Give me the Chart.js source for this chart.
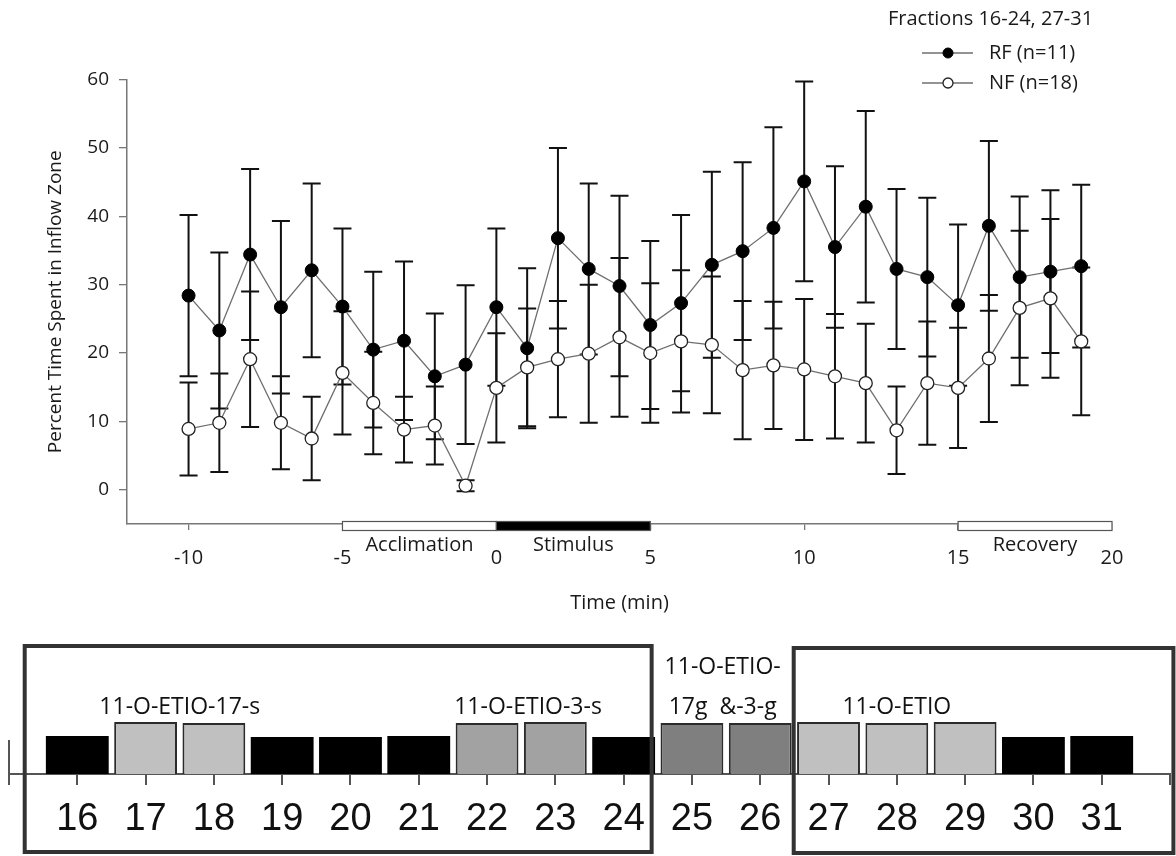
<!DOCTYPE html>
<html>
<head>
<meta charset="utf-8">
<title>Percent Time Spent in Inflow Zone</title>
<script src="https://cdn.jsdelivr.net/npm/chart.js@4.4.1/dist/chart.umd.min.js"></script>
<style>
  html, body { margin: 0; padding: 0; background: #fff; }
  #wrap { position: relative; width: 1176px; height: 856px; }
  #timeChart { position: absolute; left: 0; top: 0; }
  #fracChart { position: absolute; left: 0; top: 620px; }
</style>
</head>
<body>
<div id="wrap">
  <canvas id="timeChart" width="1176" height="620"></canvas>
  <canvas id="fracChart" width="1176" height="236"></canvas>
</div>
<script>
// --- top panel: time course ---
const minutes = [-10, -9, -8, -7, -6, -5, -4, -3, -2, -1, 0, 1, 2, 3, 4, 5, 6, 7, 8, 9, 10, 11, 12, 13, 14, 15, 16, 17, 18, 19];
const rfMean = [28.4, 23.3, 34.4, 26.7, 32.1, 26.8, 20.5, 21.8, 16.6, 18.3, 26.7, 20.7, 36.8, 32.3, 29.8, 24.1, 27.3, 32.9, 34.9, 38.3, 45.1, 35.5, 41.4, 32.3, 31.1, 27.0, 38.6, 31.1, 31.9, 32.7];
const rfSE   = [11.8, 11.4, 12.5, 12.6, 12.7, 11.4, 11.4, 11.6, 9.2, 11.6, 11.5, 11.7, 13.2, 12.5, 13.2, 12.3, 12.9, 13.6, 13.0, 14.7, 14.6, 11.8, 14.0, 11.7, 11.6, 11.8, 12.4, 11.8, 11.9, 11.9];
const nfMean = [8.9, 9.8, 19.1, 9.8, 7.5, 17.1, 12.7, 8.8, 9.4, 0.6, 14.9, 17.9, 19.1, 19.9, 22.3, 20.0, 21.7, 21.2, 17.5, 18.2, 17.6, 16.6, 15.6, 8.7, 15.6, 14.9, 19.2, 26.6, 28.0, 21.7];
const nfSE   = [6.8, 7.2, 9.9, 6.8, 6.1, 9.0, 7.5, 4.8, 5.7, 0.8, 8.0, 8.6, 8.5, 10.1, 11.6, 10.2, 10.4, 10.0, 10.1, 9.3, 10.3, 9.1, 8.7, 6.4, 9.0, 8.8, 9.3, 11.3, 11.6, 10.8];
const timeTicks = [-10, -5, 0, 5, 10, 15, 20];
const percentTicks = [0, 10, 20, 30, 40, 50, 60];

const phaseNames = ['Acclimation', 'Stimulus', 'Recovery'];
const phaseStart = [-5, 0, 15];
const phaseEnd = [0, 5, 20];
const phaseDark = [false, true, false];

const keyTitle = 'Fractions 16-24, 27-31';

// --- bottom panel: fractions ---
const fractions = [16, 17, 18, 19, 20, 21, 22, 23, 24, 25, 26, 27, 28, 29, 30, 31];
const fractionLevel = [38, 52, 51, 37, 37, 38, 51, 52, 37, 51, 51, 52, 51, 52, 37, 38];
const fractionGroup = ['none', '17-s', '17-s', 'none', 'none', 'none', '3-s', '3-s', 'none', 'g', 'g', 'free', 'free', 'free', 'none', 'none'];
const fractionStops = [15, 16, 17, 18, 19, 20, 21, 22, 23, 24, 25, 26, 27, 28, 29, 30, 31, 32];
const groupNotes = ['11-O-ETIO-17-s', '11-O-ETIO-3-s', '11-O-ETIO-', '17g  &-3-g', '11-O-ETIO'];

const groupFill = { 'none': '#000000', '17-s': '#c0c0c0', '3-s': '#a2a2a2', 'g': '#7f7f7f', 'free': '#c0c0c0' };
const notePos = [
  { at: 17.5, y: 87 }, { at: 22.6, y: 87 }, { at: 25.45, y: 47 }, { at: 25.45, y: 87 }, { at: 28.0, y: 87 }
];
const boxes = [
  { from: 15.23, to: 24.41, top: 26, bottom: 232 },
  { from: 26.49, to: 32.05, top: 28, bottom: 233 }
];

Chart.defaults.font.family = '"Open Sans", sans-serif';
Chart.defaults.color = '#1a1a1a';

const errorBars = {
  id: 'errorBars',
  beforeDatasetsDraw(chart) {
    const { ctx, scales: { x, y } } = chart;
    const sets = [[rfMean, rfSE], [nfMean, nfSE]];
    ctx.save();
    ctx.strokeStyle = '#111';
    ctx.lineWidth = 2;
    sets.forEach(([mean, se]) => {
      minutes.forEach((m, i) => {
        const px = x.getPixelForValue(m);
        const hi = y.getPixelForValue(mean[i] + se[i]);
        const lo = y.getPixelForValue(mean[i] - se[i]);
        ctx.beginPath();
        ctx.moveTo(px, hi); ctx.lineTo(px, lo);
        ctx.moveTo(px - 9, hi); ctx.lineTo(px + 9, hi);
        ctx.moveTo(px - 9, lo); ctx.lineTo(px + 9, lo);
        ctx.stroke();
      });
    });
    ctx.restore();
  }
};

const phaseBars = {
  id: 'phaseBars',
  afterDraw(chart) {
    const { ctx, scales: { x }, chartArea } = chart;
    const base = chartArea.bottom;
    ctx.save();
    ctx.font = '20px "Open Sans"';
    ctx.textAlign = 'center';
    ctx.textBaseline = 'middle';
    phaseNames.forEach((name, i) => {
      const x0 = x.getPixelForValue(phaseStart[i]);
      const x1 = x.getPixelForValue(phaseEnd[i]);
      ctx.fillStyle = phaseDark[i] ? '#000' : '#fff';
      ctx.fillRect(x0, base - 2.5, x1 - x0, 9);
      ctx.strokeStyle = '#555';
      ctx.lineWidth = 1.2;
      ctx.strokeRect(x0, base - 2.5, x1 - x0, 9);
      ctx.fillStyle = '#1a1a1a';
      ctx.fillText(name, (x0 + x1) / 2, base + 21);
    });
    ctx.restore();
  }
};

const seriesKey = {
  id: 'seriesKey',
  afterDraw(chart) {
    const { ctx } = chart;
    ctx.save();
    ctx.font = '20px "Open Sans"';
    ctx.textBaseline = 'middle';
    ctx.textAlign = 'left';
    ctx.fillStyle = '#1a1a1a';
    ctx.fillText(keyTitle, 888, 19);
    chart.data.datasets.forEach((ds, i) => {
      const yy = 53 + i * 30;
      ctx.strokeStyle = ds.borderColor;
      ctx.lineWidth = ds.borderWidth;
      ctx.beginPath(); ctx.moveTo(922, yy); ctx.lineTo(973, yy); ctx.stroke();
      ctx.beginPath(); ctx.arc(948, yy, 5, 0, Math.PI * 2);
      ctx.fillStyle = ds.pointBackgroundColor; ctx.fill();
      ctx.strokeStyle = ds.pointBorderColor; ctx.lineWidth = ds.pointBorderWidth; ctx.stroke();
      ctx.fillStyle = '#1a1a1a';
      ctx.fillText(ds.label, 989, yy);
    });
    ctx.restore();
  }
};

new Chart(document.getElementById('timeChart'), {
  type: 'line',
  data: {
    datasets: [
      {
        label: 'RF (n=11)',
        data: minutes.map((m, i) => ({ x: m, y: rfMean[i] })),
        borderColor: '#6f6f6f', borderWidth: 1.3,
        pointRadius: 6.5, pointBackgroundColor: '#000', pointBorderColor: '#000', pointBorderWidth: 1,
        tension: 0
      },
      {
        label: 'NF (n=18)',
        data: minutes.map((m, i) => ({ x: m, y: nfMean[i] })),
        borderColor: '#6f6f6f', borderWidth: 1.3,
        pointRadius: 6.5, pointBackgroundColor: '#fff', pointBorderColor: '#222', pointBorderWidth: 1.3,
        tension: 0
      }
    ]
  },
  options: {
    responsive: false,
    animation: false,
    layout: { padding: { top: 79.5, right: 64, bottom: 0, left: 0 } },
    plugins: { legend: { display: false }, tooltip: { enabled: false } },
    scales: {
      x: {
        type: 'linear', min: -12, max: 20,
        afterBuildTicks: s => { s.ticks = timeTicks.map(v => ({ value: v })); },
        afterFit: s => { s.height = 96; },
        grid: { drawOnChartArea: false, tickLength: 6, color: '#777', lineWidth: 1.3 },
        border: { color: '#777', width: 1.5 },
        ticks: { font: { size: 20 }, color: '#1a1a1a', padding: 16, maxRotation: 0, autoSkip: false },
        title: { display: true, text: 'Time (min)', font: { size: 20 }, color: '#1a1a1a', padding: { top: 0, bottom: 5 } }
      },
      y: {
        min: -5, max: 60,
        afterBuildTicks: s => { s.ticks = percentTicks.map(v => ({ value: v })); },
        afterFit: s => { s.width = 127; },
        grid: { drawOnChartArea: false, tickLength: 8, color: '#777', lineWidth: 1.3 },
        border: { color: '#777', width: 1.5 },
        ticks: { font: { size: 19 }, color: '#1a1a1a', padding: 10 },
        title: { display: true, text: 'Percent Time Spent in Inflow Zone', font: { size: 19 }, color: '#1a1a1a', padding: { top: 44, bottom: 0 } }
      }
    }
  },
  plugins: [errorBars, phaseBars, seriesKey]
});

const fractionDecor = {
  id: 'fractionDecor',
  afterDraw(chart) {
    const { ctx, scales: { x, y } } = chart;
    const base = y.getPixelForValue(0);
    ctx.save();
    // short upright stub at the left end of the axis
    ctx.strokeStyle = '#555';
    ctx.lineWidth = 2;
    const sx = x.getPixelForValue(fractionStops[0]);
    ctx.beginPath(); ctx.moveTo(sx, base - 34); ctx.lineTo(sx, base + 11); ctx.stroke();
    // grouping boxes
    ctx.strokeStyle = '#333';
    ctx.lineWidth = 4;
    boxes.forEach(b => {
      const x0 = x.getPixelForValue(b.from);
      const x1 = x.getPixelForValue(b.to);
      ctx.strokeRect(x0, b.top, x1 - x0, b.bottom - b.top);
    });
    // group names
    ctx.font = '23px "Open Sans"';
    ctx.fillStyle = '#111';
    ctx.textAlign = 'center';
    ctx.textBaseline = 'middle';
    groupNotes.forEach((t, i) => {
      ctx.fillText(t, x.getPixelForValue(notePos[i].at), notePos[i].y);
    });
    ctx.restore();
  }
};

new Chart(document.getElementById('fracChart'), {
  type: 'bar',
  data: {
    datasets: [{
      data: fractions.map((f, i) => ({ x: f, y: fractionLevel[i] })),
      backgroundColor: fractionGroup.map(g => groupFill[g]),
      borderColor: '#2b2b2b',
      borderWidth: fractionGroup.map(g => g === 'none' ? 0 : 2),
      barPercentage: 0.92,
      categoryPercentage: 1
    }]
  },
  options: {
    responsive: false,
    animation: false,
    layout: { padding: { top: 20, right: 6, bottom: 0, left: 9 } },
    plugins: { legend: { display: false }, tooltip: { enabled: false } },
    scales: {
      x: {
        type: 'linear', min: 15, max: 32, offset: false,
        afterBuildTicks: s => { s.ticks = fractionStops.map(v => ({ value: v })); },
        afterFit: s => { s.height = 82; s.paddingLeft = 0; s.paddingRight = 0; },
        grid: { drawOnChartArea: false, offset: false, tickLength: 11, color: '#555', lineWidth: 2 },
        border: { color: '#555', width: 2 },
        ticks: {
          font: { family: '"Liberation Sans", Arial, sans-serif', size: 38 },
          color: '#111', padding: 12, maxRotation: 0, autoSkip: false,
          callback: v => fractions.includes(v) ? String(v) : ''
        }
      },
      y: { display: false, min: 0, max: 134 }
    }
  },
  plugins: [fractionDecor]
});
</script>
</body>
</html>
